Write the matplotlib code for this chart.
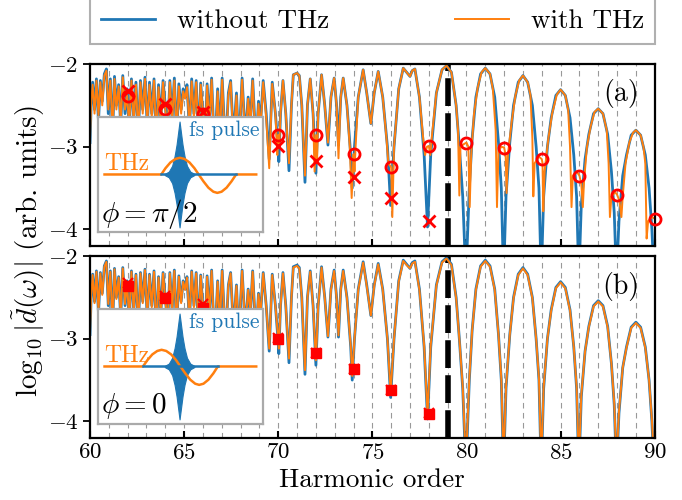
import matplotlib
matplotlib.use('Agg')
import matplotlib.pyplot as plt

plt.rcParams['font.family'] = 'serif'
plt.rcParams['font.serif'] = ['cmr10']
plt.rcParams['mathtext.fontset'] = 'cm'
plt.rcParams['axes.formatter.use_mathtext'] = True

# spectrum without THz (same in both panels)
blue_h = [60.00, 60.06, 60.14, 60.24, 60.34, 60.45, 60.55, 60.65, 60.76, 60.87,
          60.97, 61.08, 61.20, 61.30, 61.40, 61.52, 61.63, 61.74, 61.86, 61.97,
          62.08, 62.20, 62.32, 62.44, 62.56, 62.68, 62.80, 62.92, 63.04, 63.16,
          63.28, 63.40, 63.52, 63.64, 63.76, 63.88, 64.00, 64.12, 64.24, 64.36,
          64.48, 64.60, 64.72, 64.84, 64.95, 65.05, 65.15, 65.28, 65.40, 65.52,
          65.64, 65.76, 65.88, 66.00, 66.10, 66.22, 66.34, 66.46, 66.62, 66.78,
          66.90, 67.02, 67.20, 67.35, 67.47, 67.62, 67.78, 67.90, 68.08, 68.25,
          68.40, 68.52, 68.64, 68.82, 68.95, 69.05, 69.20, 69.36, 69.52, 69.68,
          69.85, 70.00, 70.03, 70.12, 70.25, 70.40, 70.57, 70.70, 70.80, 71.00,
          71.12, 71.25, 71.42, 71.55, 71.70, 71.85, 72.00, 72.12, 72.30, 72.47,
          72.64, 72.80, 72.97, 73.10, 73.20, 73.32, 73.45, 73.65, 73.85, 73.93,
          74.05, 74.25, 74.51, 74.70, 74.92, 75.10, 75.31, 75.55, 75.80, 75.97,
          76.15, 76.40, 76.64, 76.82, 77.00, 77.12, 77.26, 77.50, 77.75, 77.93,
          78.10, 78.40, 78.70, 78.94, 79.20, 79.45, 79.62, 79.80, 79.97, 80.15,
          80.30, 80.50, 80.75, 81.00, 81.25, 81.50, 81.70, 81.85, 81.97, 82.10,
          82.30, 82.50, 82.75, 83.00, 83.25, 83.50, 83.70, 83.85, 83.97, 84.10,
          84.30, 84.50, 84.75, 85.00, 85.25, 85.50, 85.70, 85.85, 85.97, 86.10,
          86.30, 86.50, 86.75, 87.00, 87.25, 87.50, 87.70, 87.85, 87.97, 88.10,
          88.30, 88.50, 88.75, 89.00, 89.25, 89.50, 89.70, 89.85, 89.97, 90.00]
blue_v = [-2.95, -2.50, -2.22, -2.55, -2.18, -2.70, -2.20, -2.45, -2.12, -2.06,
          -2.60, -2.18, -2.85, -2.15, -2.50, -2.25, -2.75, -2.14, -2.60, -2.30,
          -2.80, -2.18, -2.65, -2.22, -2.90, -2.20, -2.55, -2.16, -2.75, -2.22,
          -2.60, -2.18, -2.95, -2.25, -2.70, -2.20, -2.50, -2.85, -2.20, -2.65,
          -2.17, -2.90, -2.24, -2.55, -2.30, -2.40, -2.25, -2.80, -2.18, -2.60,
          -2.20, -2.95, -2.23, -2.62, -3.00, -2.24, -2.70, -2.17, -3.10, -2.30,
          -2.85, -2.17, -3.05, -2.35, -2.20, -2.90, -2.35, -3.00, -2.17, -2.90,
          -2.40, -2.70, -2.18, -3.00, -2.45, -2.75, -2.20, -2.60, -3.15, -2.22,
          -2.60, -3.05, -3.18, -2.60, -2.20, -2.60, -3.29, -2.50, -2.13, -2.11,
          -2.14, -2.50, -3.43, -2.50, -2.18, -2.60, -3.32, -2.60, -2.13, -2.50,
          -2.98, -2.40, -2.17, -2.50, -2.98, -2.40, -2.17, -2.50, -3.10, -3.50,
          -3.00, -2.40, -2.07, -2.35, -2.72, -2.35, -2.09, -2.40, -3.00, -3.71,
          -3.00, -2.30, -2.05, -2.10, -2.15, -2.08, -2.06, -2.40, -3.10, -3.97,
          -3.10, -2.35, -2.07, -2.02, -2.10, -2.50, -3.00, -3.60, -4.60, -3.50,
          -2.90, -2.40, -2.12, -2.05, -2.12, -2.40, -2.95, -3.50, -4.60, -3.60,
          -2.95, -2.50, -2.22, -2.14, -2.22, -2.50, -3.00, -3.50, -4.60, -3.60,
          -3.00, -2.65, -2.38, -2.31, -2.38, -2.65, -3.10, -3.60, -4.60, -3.70,
          -3.15, -2.85, -2.60, -2.54, -2.60, -2.85, -3.30, -3.80, -4.60, -3.90,
          -3.35, -3.10, -2.86, -2.80, -2.86, -3.10, -3.50, -4.00, -4.60, -4.50]

# with THz, phi = pi/2 (panel a)
thz_a_h = [60.00, 60.06, 60.14, 60.24, 60.34, 60.45, 60.55, 60.65, 60.76, 60.87,
           60.97, 61.08, 61.20, 61.30, 61.40, 61.52, 61.63, 61.74, 61.86, 61.97,
           62.08, 62.20, 62.32, 62.44, 62.56, 62.68, 62.80, 62.92, 63.04, 63.16,
           63.28, 63.40, 63.52, 63.64, 63.76, 63.88, 64.00, 64.12, 64.24, 64.36,
           64.48, 64.60, 64.72, 64.84, 64.95, 65.05, 65.15, 65.28, 65.40, 65.52,
           65.64, 65.76, 65.88, 66.00, 66.10, 66.22, 66.34, 66.46, 66.62, 66.78,
           66.90, 67.02, 67.20, 67.35, 67.47, 67.62, 67.78, 67.90, 68.08, 68.25,
           68.40, 68.52, 68.64, 68.82, 68.95, 69.05, 69.20, 69.36, 69.52, 69.68,
           69.85, 69.95, 70.00, 70.05, 70.12, 70.25, 70.40, 70.57, 70.70, 70.80,
           71.00, 71.12, 71.25, 71.42, 71.55, 71.70, 71.85, 71.93, 72.00, 72.06,
           72.12, 72.30, 72.47, 72.64, 72.80, 72.97, 73.10, 73.20, 73.32, 73.45,
           73.65, 73.80, 73.90, 74.00, 74.05, 74.12, 74.25, 74.51, 74.70, 74.92,
           75.10, 75.31, 75.55, 75.75, 75.85, 76.00, 76.06, 76.15, 76.40, 76.64,
           76.82, 77.00, 77.12, 77.26, 77.50, 77.70, 77.80, 77.90, 78.00, 78.08,
           78.15, 78.40, 78.70, 78.94, 79.20, 79.45, 79.55, 79.62, 79.68, 79.85,
           80.00, 80.10, 80.17, 80.25, 80.40, 80.60, 80.80, 81.00, 81.25, 81.40,
           81.55, 81.62, 81.70, 81.85, 82.00, 82.08, 82.13, 82.20, 82.40, 82.60,
           82.80, 83.00, 83.25, 83.40, 83.50, 83.55, 83.62, 83.85, 84.00, 84.04,
           84.08, 84.15, 84.35, 84.55, 84.80, 85.00, 85.25, 85.40, 85.50, 85.58,
           85.65, 85.85, 86.00, 86.10, 86.18, 86.25, 86.40, 86.60, 86.80, 87.00,
           87.25, 87.45, 87.55, 87.62, 87.70, 87.90, 88.00, 88.12, 88.23, 88.30,
           88.45, 88.65, 88.85, 89.00, 89.25, 89.40, 89.50, 89.57, 89.65, 89.85,
           90.00]
thz_a_v = [-2.90, -2.45, -2.25, -2.60, -2.20, -2.62, -2.22, -2.50, -2.14, -2.08,
           -2.55, -2.20, -2.80, -2.18, -2.55, -2.27, -2.70, -2.16, -2.55, -2.38,
           -2.75, -2.20, -2.70, -2.25, -2.85, -2.22, -2.60, -2.18, -2.70, -2.25,
           -2.65, -2.20, -2.90, -2.28, -2.75, -2.22, -2.55, -2.80, -2.22, -2.70,
           -2.20, -2.85, -2.27, -2.60, -2.33, -2.42, -2.28, -2.75, -2.21, -2.65,
           -2.22, -2.90, -2.25, -2.60, -3.05, -2.26, -2.75, -2.19, -3.15, -2.33,
           -2.90, -2.19, -3.10, -2.38, -2.22, -2.95, -2.38, -3.05, -2.19, -2.95,
           -2.42, -2.75, -2.20, -3.05, -2.48, -2.80, -2.22, -2.65, -3.26, -2.24,
           -2.60, -3.10, -2.86, -3.00, -2.60, -2.20, -2.60, -3.20, -2.50, -2.13,
           -2.11, -2.14, -2.50, -3.35, -2.50, -2.18, -2.60, -3.30, -2.86, -3.20,
           -2.60, -2.13, -2.50, -2.95, -2.40, -2.17, -2.50, -3.14, -2.40, -2.17,
           -2.50, -3.00, -3.62, -3.09, -3.30, -2.95, -2.40, -2.07, -2.35, -2.72,
           -2.35, -2.09, -2.40, -2.90, -3.20, -3.25, -3.85, -3.00, -2.30, -2.05,
           -2.10, -2.15, -2.08, -2.06, -2.40, -2.90, -3.10, -3.00, -2.99, -3.10,
           -2.90, -2.35, -2.07, -2.02, -2.10, -2.50, -2.80, -3.59, -3.00, -2.97,
           -2.95, -3.00, -3.73, -3.10, -2.60, -2.28, -2.10, -2.05, -2.12, -2.30,
           -2.80, -3.73, -3.05, -3.00, -3.01, -3.10, -3.56, -3.10, -2.70, -2.38,
           -2.20, -2.14, -2.22, -2.38, -2.90, -3.60, -3.20, -3.12, -3.15, -3.20,
           -3.78, -3.30, -2.90, -2.60, -2.37, -2.31, -2.38, -2.55, -3.00, -3.73,
           -3.35, -3.30, -3.35, -3.45, -3.73, -3.40, -3.00, -2.75, -2.58, -2.54,
           -2.60, -2.80, -3.20, -3.85, -3.60, -3.55, -3.58, -3.65, -3.85, -3.60,
           -3.20, -2.95, -2.83, -2.80, -2.86, -3.00, -3.20, -4.11, -3.90, -3.85,
           -3.87]

# with THz, phi = 0 (panel b), sampled at blue_h
thz_b_v = [-2.92, -2.48, -2.23, -2.57, -2.19, -2.66, -2.21, -2.47, -2.13, -2.07,
           -2.58, -2.19, -2.82, -2.16, -2.52, -2.26, -2.72, -2.15, -2.58, -2.33,
           -2.78, -2.19, -2.67, -2.23, -2.87, -2.21, -2.57, -2.17, -2.72, -2.23,
           -2.62, -2.19, -2.92, -2.26, -2.72, -2.21, -2.52, -2.83, -2.21, -2.67,
           -2.18, -2.87, -2.25, -2.57, -2.31, -2.41, -2.26, -2.78, -2.19, -2.62,
           -2.21, -2.92, -2.24, -2.63, -2.97, -2.25, -2.72, -2.18, -3.05, -2.31,
           -2.83, -2.18, -3.02, -2.36, -2.21, -2.88, -2.36, -2.97, -2.18, -2.88,
           -2.41, -2.68, -2.19, -2.97, -2.46, -2.73, -2.21, -2.61, -3.12, -2.23,
           -2.61, -3.00, -3.12, -2.61, -2.21, -2.61, -3.24, -2.51, -2.14, -2.12,
           -2.15, -2.51, -3.38, -2.51, -2.19, -2.61, -3.26, -2.61, -2.14, -2.51,
           -2.97, -2.41, -2.18, -2.51, -2.96, -2.41, -2.18, -2.51, -3.08, -3.45,
           -3.00, -2.41, -2.08, -2.36, -2.72, -2.36, -2.10, -2.41, -3.00, -3.65,
           -3.00, -2.31, -2.06, -2.11, -2.15, -2.09, -2.07, -2.41, -3.08, -3.92,
           -3.08, -2.36, -2.08, -2.03, -2.11, -2.51, -3.00, -3.58, -4.50, -3.48,
           -2.90, -2.41, -2.13, -2.06, -2.13, -2.41, -2.95, -3.48, -4.50, -3.58,
           -2.95, -2.51, -2.23, -2.15, -2.23, -2.51, -3.00, -3.48, -4.50, -3.58,
           -3.00, -2.66, -2.39, -2.32, -2.39, -2.66, -3.10, -3.58, -4.50, -3.68,
           -3.15, -2.86, -2.61, -2.55, -2.61, -2.86, -3.30, -3.78, -4.50, -3.88,
           -3.35, -3.11, -2.87, -2.81, -2.87, -3.11, -3.50, -3.98, -4.50, -4.45]

# even harmonic markers
circ_h = [62, 64, 66, 68, 70, 72, 74, 76, 78, 80, 82, 84, 86, 88, 90]
circ_v = [-2.39, -2.54, -2.61, -2.80, -2.86, -2.86, -3.09, -3.25, -2.99,
          -2.95, -3.01, -3.15, -3.35, -3.58, -3.87]
even_h = [62, 64, 66, 68, 70, 72, 74, 76, 78]
nothz_v = [-2.33, -2.48, -2.58, -2.85, -2.99, -3.17, -3.37, -3.62, -3.90]
sq_v = [-2.36, -2.51, -2.63, -2.85, -3.00, -3.17, -3.37, -3.62, -3.91]

# inset sketches
thz_x_a = [0.04, 0.384, 0.41, 0.44, 0.47, 0.497, 0.525, 0.555, 0.585, 0.611,
           0.64, 0.67, 0.70, 0.724, 0.75, 0.78, 0.81, 0.838, 0.96]
thz_x_b = [0.04, 0.273, 0.30, 0.33, 0.36, 0.386, 0.414, 0.444, 0.474, 0.50,
           0.53, 0.56, 0.59, 0.614, 0.64, 0.67, 0.70, 0.727, 0.96]
thz_y = [0, 0, 0.11, 0.21, 0.27, 0.29, 0.27, 0.21, 0.11, 0,
         -0.12, -0.23, -0.30, -0.32, -0.30, -0.23, -0.12, 0, 0]
pulse_center = 0.495
pulse_dx = [-0.09, -0.065, -0.045, -0.03, -0.018, -0.009, 0.0, 0.009, 0.018, 0.03, 0.045, 0.065, 0.09]
pulse_env = [0.01, 0.05, 0.15, 0.32, 0.52, 0.72, 0.92, 0.72, 0.52, 0.32, 0.15, 0.05, 0.01]

BLUE = '#1f77b4'
ORANGE = '#ff7f0e'

fig = plt.figure(figsize=(6.82, 5.0), dpi=100)
ax1 = fig.add_axes([0.132, 0.508, 0.828, 0.364])
ax2 = fig.add_axes([0.132, 0.124, 0.828, 0.364])


def draw_inset(ax, thz_x, phi_label):
    ins = ax.inset_axes([0.014, 0.077, 0.292, 0.632])
    ins.set_xlim(0, 1)
    ins.set_ylim(-1, 1)
    ins.set_xticks([])
    ins.set_yticks([])
    for sp in ins.spines.values():
        sp.set_color('#aaaaaa')
        sp.set_linewidth(1.6)
    ins.plot(thz_x, thz_y, color=ORANGE, lw=1.8)
    ins.plot([thz_x[1], thz_x[-2]], [0, 0], color=BLUE, lw=1.8)
    px = [pulse_center + d for d in pulse_dx]
    ins.fill_between(px, [-e for e in pulse_env], pulse_env, color=BLUE, lw=0.8)
    ins.text(0.55, 0.77, 'fs pulse', color=BLUE, fontsize=15.5, va='center')
    ins.text(0.04, 0.19, 'THz', color=ORANGE, fontsize=17, va='center')
    ins.text(0.02, -0.68, phi_label, fontsize=21, va='center')


for ax in (ax1, ax2):
    for h in range(61, 90):
        ax.axvline(h, color='#999999', lw=0.8, ls=(0, (5, 4)), zorder=0.5)
    ax.axvline(79, color='black', lw=4.0, ls=(0, (5, 1.3)), zorder=1.5)
    ax.set_xlim(60, 90)
    ax.set_ylim(-4.2, -2)
    ax.set_xticks([60, 65, 70, 75, 80, 85, 90])
    ax.set_yticks([-2, -3, -4])
    ax.tick_params(axis='x', direction='in', length=5, width=1.5, labelsize=16.5)
    ax.tick_params(axis='y', direction='out', length=5, width=1.3, labelsize=16.5)
    for sp in ax.spines.values():
        sp.set_linewidth(1.6)

# panel (a)
l1, = ax1.plot(blue_h, blue_v, color=BLUE, lw=2.0, zorder=2)
l2, = ax1.plot(thz_a_h, thz_a_v, color=ORANGE, lw=1.4, zorder=2.1)
ax1.plot(circ_h, circ_v, 'o', ms=8, mfc='none', mec='red', mew=2, zorder=4, clip_on=False)
ax1.plot(even_h, nothz_v, 'x', ms=8, color='red', mew=2, zorder=4)
ax1.tick_params(axis='x', labelbottom=False)
ax1.text(0.94, 0.84, '(a)', transform=ax1.transAxes, fontsize=20, ha='center', va='center')
draw_inset(ax1, thz_x_a, r'$\phi = \pi/2$')

# panel (b)
ax2.plot(blue_h, blue_v, color=BLUE, lw=2.0, zorder=2)
ax2.plot(blue_h, thz_b_v, color=ORANGE, lw=1.4, zorder=2.1)
ax2.plot(even_h, sq_v, 's', ms=7, color='red', zorder=4)
ax2.plot(even_h, nothz_v, 'x', ms=7, color='red', mew=1.5, zorder=4.1)
ax2.text(0.94, 0.83, '(b)', transform=ax2.transAxes, fontsize=20, ha='center', va='center')
ax2.set_xlabel('Harmonic order', fontsize=19.5, labelpad=4)
draw_inset(ax2, thz_x_b, r'$\phi = 0$')

fig.text(0.042, 0.498, r'$\log_{10}|\tilde{d}(\omega)|$ (arb. units)', rotation=90,
         ha='center', va='center', fontsize=21)

leg = fig.legend([l1, l2], ['without THz', 'with THz'], loc='lower left',
                 bbox_to_anchor=(0.132, 0.912, 0.828, 0.084), mode='expand', ncol=2,
                 borderaxespad=0, fancybox=False, edgecolor='#b0b0b0', framealpha=1,
                 fontsize=19.5, handlelength=2.0)
leg.get_frame().set_linewidth(1.5)

fig.savefig('out.png', dpi=100)
